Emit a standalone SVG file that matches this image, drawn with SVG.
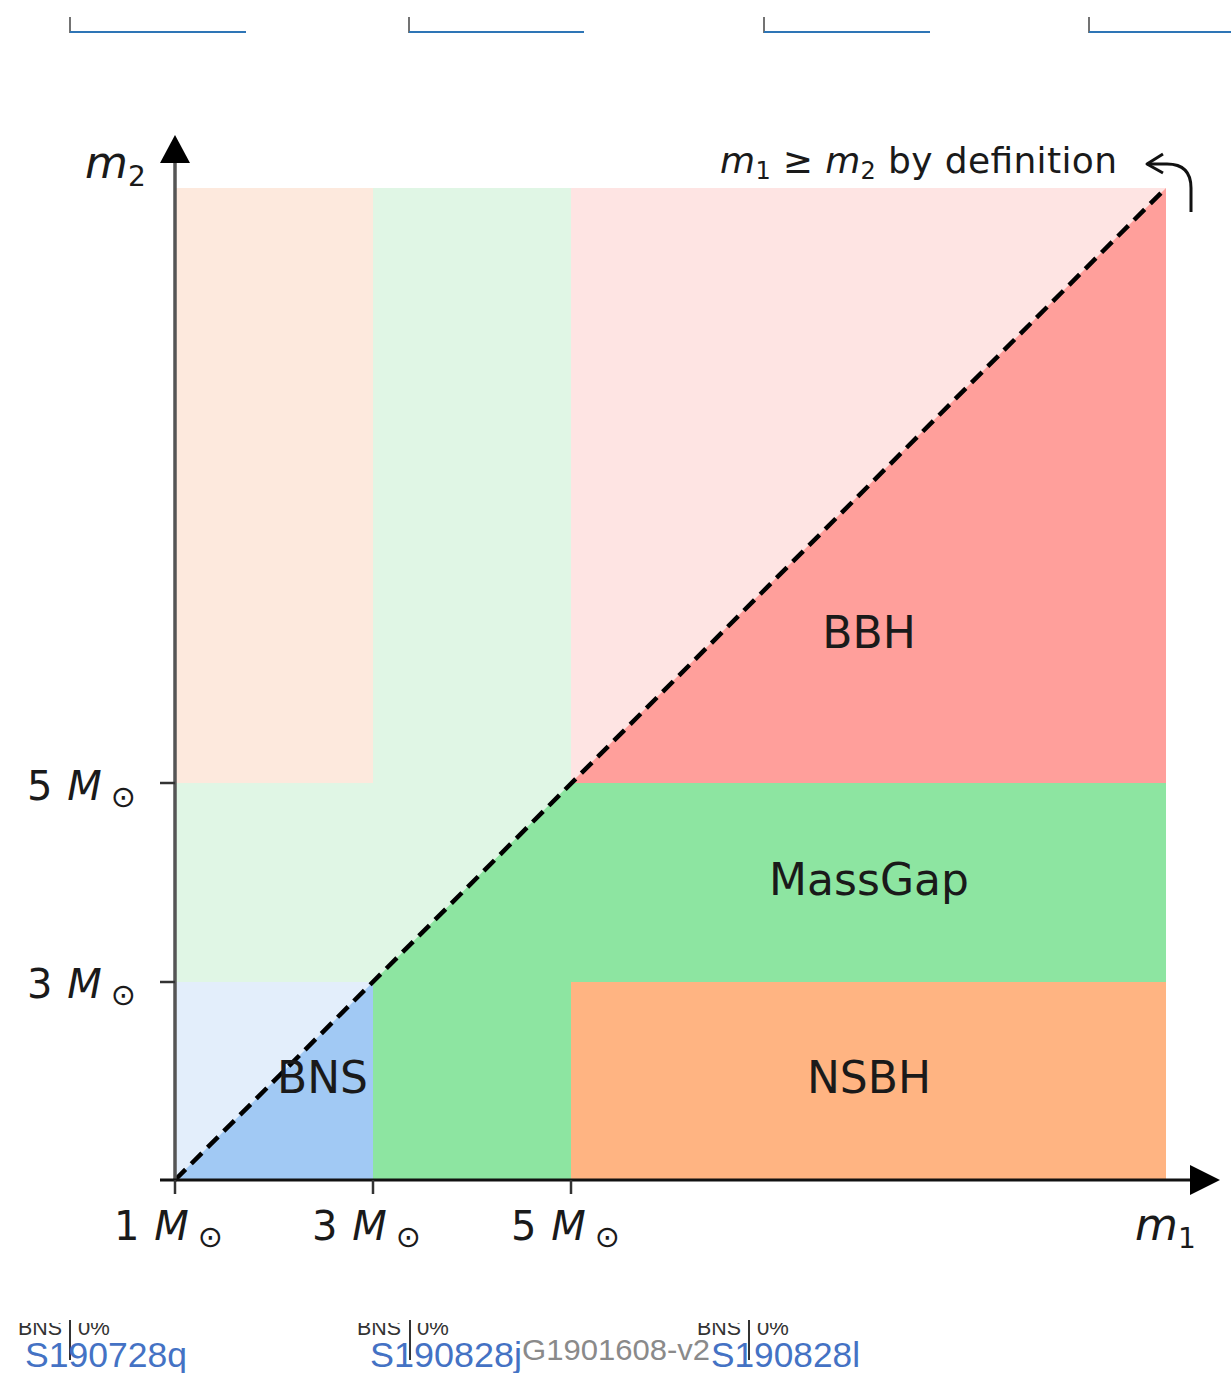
<svg xmlns="http://www.w3.org/2000/svg" width="1231" height="1373" viewBox="0 0 1231 1373">
<defs>
<style>
.plot{font-family:"DejaVu Sans",sans-serif;fill:#1a1a1a}
.lbl{font-size:44px}
.tick{font-size:40px}
.sub{font-size:28px}
.osub{font-size:30px}
.it{font-style:italic}
.ax{stroke:#111;stroke-width:3;fill:none}
.tk{stroke:#333;stroke-width:2.5}
.ppt{font-family:"Liberation Sans",Arial,sans-serif}
.blue{fill:#4472c4;font-size:35px}
.gray{fill:#8a8a8a;font-size:30px}
.tiny{fill:#333;font-size:22px}
</style>
<clipPath id="clipTop"><rect x="0" y="1323" width="1231" height="60"/></clipPath>
</defs>

<g id="header-lines">
<g>
<line x1="70" y1="17" x2="70" y2="33" stroke="#444" stroke-width="1.5"/>
<line x1="70" y1="32" x2="246" y2="32" stroke="#2e75b6" stroke-width="2"/>
<line x1="409" y1="17" x2="409" y2="33" stroke="#444" stroke-width="1.5"/>
<line x1="409" y1="32" x2="584" y2="32" stroke="#2e75b6" stroke-width="2"/>
<line x1="764" y1="17" x2="764" y2="33" stroke="#444" stroke-width="1.5"/>
<line x1="764" y1="32" x2="930" y2="32" stroke="#2e75b6" stroke-width="2"/>
<line x1="1089" y1="17" x2="1089" y2="33" stroke="#444" stroke-width="1.5"/>
<line x1="1089" y1="32" x2="1231" y2="32" stroke="#2e75b6" stroke-width="2"/>
</g>
</g>

<g id="regions">
<rect x="175" y="982" width="198" height="198" fill="#e3eefb"/>
<polygon points="175,783 373,783 373,188 571,188 571,982 175,982" fill="#e0f6e5"/>
<rect x="175" y="188" width="198" height="595" fill="#fde9dd"/>
<rect x="571" y="188" width="595" height="595" fill="#fee4e3"/>
<polygon id="bns-region" points="175,1180 373,982 373,1180" fill="#a1c9f4"/>
<polygon id="massgap-region" points="373,1180 373,982 571,783 1166,783 1166,982 571,982 571,1180" fill="#8de5a1"/>
<rect id="nsbh-region" x="571" y="982" width="595" height="198" fill="#ffb482"/>
<polygon id="bbh-region" points="571,783 1166,188 1166,783" fill="#ff9f9b"/>
</g>

<g id="connectors">
<line x1="175" y1="1180" x2="1166" y2="188" stroke="#000" stroke-width="4.5" stroke-dasharray="15,8"/>
<line x1="175" y1="1180" x2="175" y2="160" stroke="#555" stroke-width="3.5"/>
<polygon points="175,135 160,163 190,163" fill="#000"/>
<line x1="160" y1="1180" x2="1195" y2="1180" class="ax"/>
<polygon points="1220,1180 1190,1165 1190,1195" fill="#000"/>
<line x1="160" y1="783" x2="175" y2="783" class="tk"/>
<line x1="160" y1="982" x2="175" y2="982" class="tk"/>
<line x1="175" y1="1180" x2="175" y2="1194" class="tk"/>
<line x1="373" y1="1180" x2="373" y2="1194" class="tk"/>
<line x1="571" y1="1180" x2="571" y2="1194" class="tk"/>
<path d="M1191,212 L1191,188 Q1191,164 1167,164 L1147,164" fill="none" stroke="#111" stroke-width="3"/>
<path d="M1163,154 L1147,164 L1163,173" fill="none" stroke="#111" stroke-width="3" stroke-linejoin="round"/>
</g>

<g id="labels" class="plot">
<text class="lbl it" x="85" y="178">m<tspan class="sub" font-style="normal" dy="8">2</tspan></text>
<text class="lbl it" x="1135" y="1240">m<tspan class="sub" font-style="normal" dy="8">1</tspan></text>
<text class="tick" x="27" y="800">5 <tspan class="it" dx="2">M</tspan><tspan class="osub" dx="9" dy="7">⊙</tspan></text>
<text class="tick" x="27" y="998">3 <tspan class="it" dx="2">M</tspan><tspan class="osub" dx="9" dy="7">⊙</tspan></text>
<text class="tick" x="114" y="1240">1 <tspan class="it" dx="2">M</tspan><tspan class="osub" dx="9" dy="7">⊙</tspan></text>
<text class="tick" x="312" y="1240">3 <tspan class="it" dx="2">M</tspan><tspan class="osub" dx="9" dy="7">⊙</tspan></text>
<text class="tick" x="511" y="1240">5 <tspan class="it" dx="2">M</tspan><tspan class="osub" dx="9" dy="7">⊙</tspan></text>
<text x="720" y="173" font-size="36" textLength="397" lengthAdjust="spacing"><tspan class="it">m</tspan><tspan font-size="24" dy="6">1</tspan><tspan dy="-6"> ≥ </tspan><tspan class="it">m</tspan><tspan font-size="24" dy="6">2</tspan><tspan dy="-6"> by definition</tspan></text>
</g>

<g id="node-bbh" class="plot"><text class="lbl" x="869" y="648" text-anchor="middle">BBH</text></g>
<g id="node-massgap" class="plot"><text class="lbl" x="869" y="895" text-anchor="middle">MassGap</text></g>
<g id="node-nsbh" class="plot"><text class="lbl" x="869" y="1093" text-anchor="middle">NSBH</text></g>
<g id="node-bns" class="plot"><text class="lbl" x="277" y="1093">BNS</text></g>

<g id="footer" class="ppt">
<g clip-path="url(#clipTop)">
<text class="tiny" x="18" y="1335" textLength="44" lengthAdjust="spacingAndGlyphs">BNS</text><text class="tiny" x="78" y="1335">0%</text>
<text class="tiny" x="357" y="1335" textLength="44" lengthAdjust="spacingAndGlyphs">BNS</text><text class="tiny" x="417" y="1335">0%</text>
<text class="tiny" x="697" y="1335" textLength="44" lengthAdjust="spacingAndGlyphs">BNS</text><text class="tiny" x="757" y="1335">0%</text>
</g>
<g stroke="#333" stroke-width="2">
<line x1="70" y1="1320" x2="70" y2="1360"/>
<line x1="410" y1="1320" x2="410" y2="1360"/>
<line x1="749" y1="1320" x2="749" y2="1360"/>
</g>
<text class="blue" x="25" y="1367" textLength="162" lengthAdjust="spacingAndGlyphs">S190728q</text>
<text class="blue" x="370" y="1367" textLength="152" lengthAdjust="spacingAndGlyphs">S190828j</text>
<text class="gray" x="522" y="1360" textLength="188" lengthAdjust="spacingAndGlyphs">G1901608-v2</text>
<text class="blue" x="711" y="1367" textLength="149" lengthAdjust="spacingAndGlyphs">S190828l</text>
</g>
</svg>
